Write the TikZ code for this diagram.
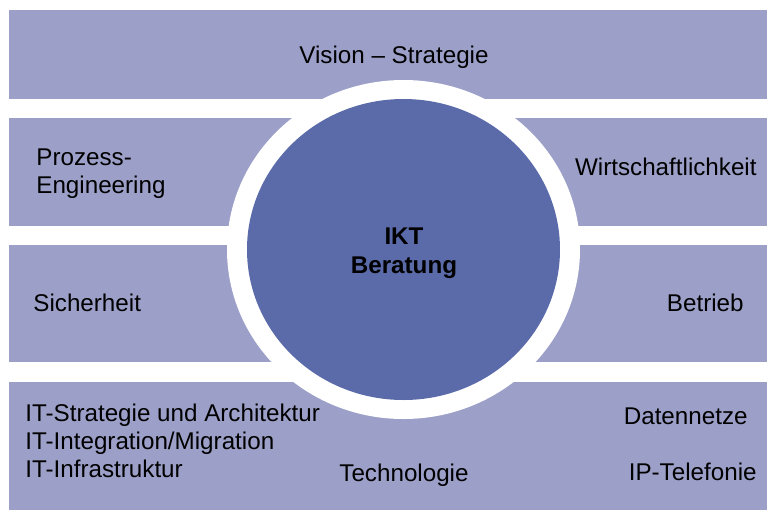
\documentclass[tikz,border=0pt]{standalone}
\usepackage{fontspec}
\setmainfont{Liberation Sans}
\definecolor{bandblue}{RGB}{156,160,200}
\definecolor{coreblue}{RGB}{91,107,170}
\tikzset{
  band/.style={fill=bandblue},
  lbl/.style={inner sep=0pt, font=\fontsize{12.1}{14}\selectfont},
}
\begin{document}
\begin{tikzpicture}[x=0.5pt,y=-0.5pt]
    \useasboundingbox (0,0) rectangle (767,510);
    % four bands
    \fill[band] (9,10) rectangle (767,99);
    \fill[band] (9,118) rectangle (767,226);
    \fill[band] (9,245) rectangle (767,362);
    \fill[band] (9,382) rectangle (767,510);

    % ring and core
    \fill[white] (403.5,249.5) ellipse [x radius=176.5, y radius=169.5];
    \fill[coreblue] (403.5,249.5) ellipse [x radius=156.5, y radius=150.5];

    \node[lbl,anchor=base] (vision) at (394,63) {Vision -- Strategie};
    \node[lbl,anchor=base west,align=left] (prozess) at (36,193)
      {Prozess-\\Engineering};
    \node[lbl,anchor=base east] (wirtschaft) at (757,175) {Wirtschaftlichkeit};
    \node[lbl,anchor=base west] (sicherheit) at (33,311) {Sicherheit};
    \node[lbl,anchor=base east] (betrieb) at (744,311) {Betrieb};
    \node[lbl,anchor=base west,align=left] (itlist) at (25,477)
      {IT-Strategie und Architektur\\IT-Integration/Migration\\IT-Infrastruktur};
    \node[lbl,anchor=base] (technologie) at (404,481) {Technologie};
    \node[lbl,anchor=base east] (netze) at (748,424) {Datennetze};
    \node[lbl,anchor=base east] (telefonie) at (757,480) {IP-Telefonie};

    \node[lbl,anchor=base,align=center,font=\fontsize{12.1}{14.5}\selectfont\bfseries]
      (ikt) at (404,273) {IKT\\Beratung};
\end{tikzpicture}
\end{document}
